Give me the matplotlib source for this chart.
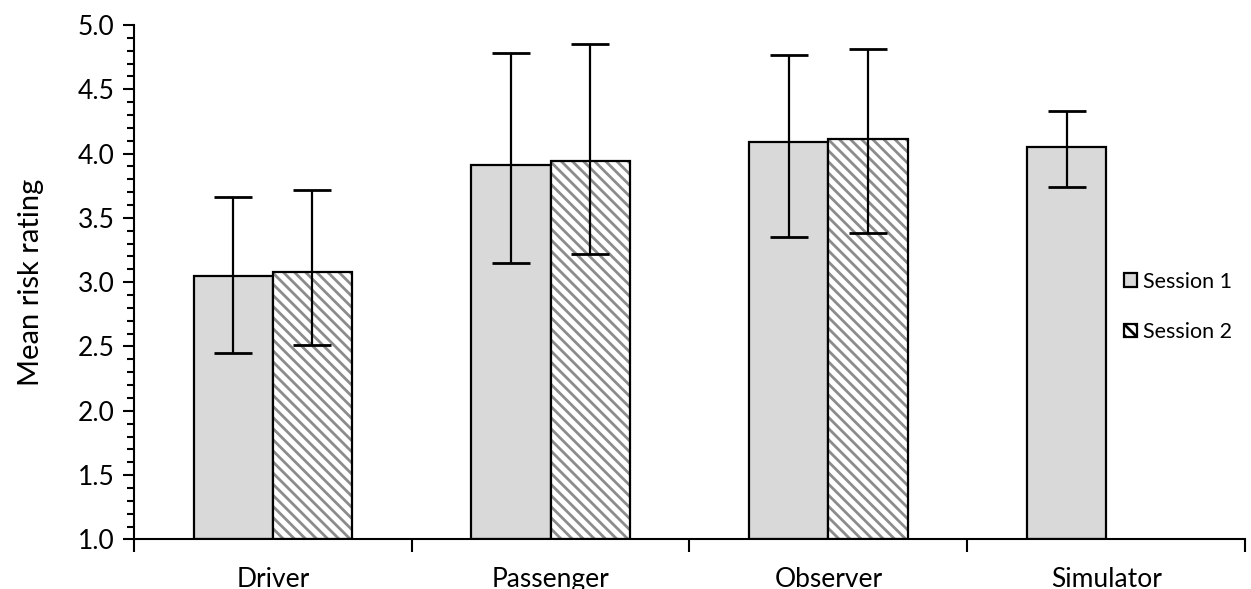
import matplotlib.pyplot as plt
from matplotlib.patches import Patch
from matplotlib.ticker import MultipleLocator, FixedLocator, NullFormatter
import numpy as np

plt.rcParams['font.family'] = ['Lato', 'DejaVu Sans']
plt.rcParams['hatch.linewidth'] = 2.0

# data
categories = ['Driver', 'Passenger', 'Observer', 'Simulator']
s1_mean = [3.05, 3.91, 4.09, 4.05]
s1_low = [2.45, 3.15, 3.35, 3.74]
s1_high = [3.66, 4.78, 4.77, 4.33]
s2_mean = [3.08, 3.94, 4.11]
s2_low = [2.51, 3.22, 3.38]
s2_high = [3.72, 4.85, 4.81]

fig = plt.figure(figsize=(12.51, 5.89), dpi=100)
ax = fig.add_axes([0.1071, 0.0842, 0.8881, 0.8734])

w = 0.285
x1 = np.arange(len(s1_mean)) - w / 2
x2 = np.arange(len(s2_mean)) + w / 2

# session 1
ax.bar(x1, np.array(s1_mean) - 1, w, bottom=1, color='#d9d9d9',
       edgecolor='black', linewidth=1.6, zorder=2)
# session 2: hatch layer then outline
ax.bar(x2, np.array(s2_mean) - 1, w, bottom=1, color='white',
       edgecolor='#8c8c8c', hatch='\\\\\\', linewidth=0, zorder=2)
ax.bar(x2, np.array(s2_mean) - 1, w, bottom=1, fill=False,
       edgecolor='black', linewidth=1.6, zorder=3)

err1 = [np.array(s1_mean) - np.array(s1_low), np.array(s1_high) - np.array(s1_mean)]
err2 = [np.array(s2_mean) - np.array(s2_low), np.array(s2_high) - np.array(s2_mean)]
ax.errorbar(x1, s1_mean, yerr=err1, fmt='none', ecolor='black',
            elinewidth=1.6, capsize=14, capthick=2, zorder=4)
ax.errorbar(x2, s2_mean, yerr=err2, fmt='none', ecolor='black',
            elinewidth=1.6, capsize=14, capthick=2, zorder=4)

ax.set_ylim(1.0, 5.0)
ax.set_xlim(-0.5, len(categories) - 0.5)
ax.yaxis.set_major_locator(MultipleLocator(0.5))
ax.yaxis.set_minor_locator(MultipleLocator(0.1))
ax.yaxis.set_major_formatter(plt.FuncFormatter(lambda v, p: f'{v:.1f}'))
ax.tick_params(axis='y', which='major', length=8, width=1.5, labelsize=19,
               pad=6, colors='black')
ax.tick_params(axis='y', which='minor', length=5, width=1.5)

# category boundaries as major ticks, names on minor ticks
ax.xaxis.set_major_locator(FixedLocator(np.arange(len(categories) + 1) - 0.5))
ax.xaxis.set_major_formatter(NullFormatter())
ax.xaxis.set_minor_locator(FixedLocator(np.arange(len(categories))))
ax.set_xticklabels(categories, minor=True)
ax.tick_params(axis='x', which='major', length=9, width=1.5)
ax.tick_params(axis='x', which='minor', length=0, labelsize=19, pad=20)

for side in ['top', 'right']:
    ax.spines[side].set_visible(False)
for side in ['left', 'bottom']:
    ax.spines[side].set_linewidth(1.5)

ax.set_ylabel('Mean risk rating', fontsize=21, labelpad=24)

handles = [Patch(facecolor='#d9d9d9', edgecolor='black', linewidth=1.6),
           Patch(facecolor='white', edgecolor='black', hatch='\\\\\\', linewidth=1.6)]
ax.legend(handles, ['Session 1', 'Session 2'], loc='center left',
          bbox_to_anchor=(0.874, 0.452), frameon=False, fontsize=15.5,
          handlelength=0.6, handleheight=0.6, handletextpad=0.25,
          labelspacing=1.4)

fig.savefig('out.png', dpi=100)
